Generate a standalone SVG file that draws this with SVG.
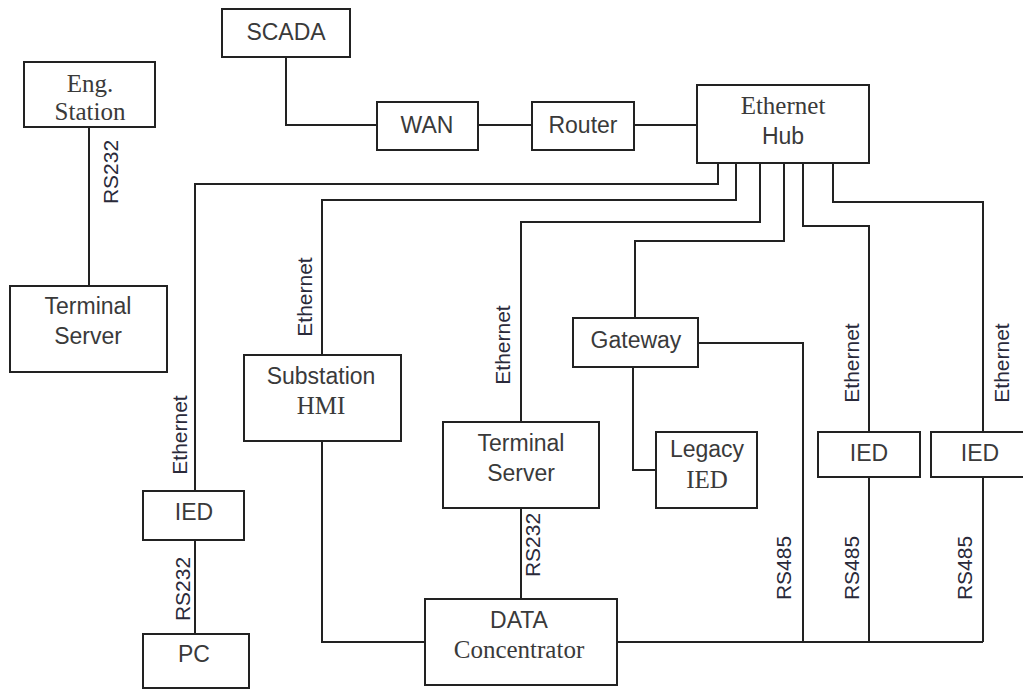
<svg xmlns="http://www.w3.org/2000/svg" width="1023" height="690" viewBox="0 0 1023 690">
<style>
.box{fill:#fff;stroke:#222;stroke-width:2}
.ln{fill:none;stroke:#222;stroke-width:2}
.t{font-family:"Liberation Sans",Arial,sans-serif;font-size:23px;fill:#3a3a3a;text-anchor:middle}
.s{font-family:"Liberation Serif","Times New Roman",serif;font-size:25px;fill:#3a3a3a;text-anchor:middle}
.r{font-family:"Liberation Sans",Arial,sans-serif;font-size:21px;fill:#2a2a3a;text-anchor:middle}
</style>
<rect width="1023" height="690" fill="#fff"/>
<g id="connectors">
<path class="ln" d="M89 127V286"/>
<path class="ln" d="M286 57V125H377"/>
<path class="ln" d="M478 125H532"/>
<path class="ln" d="M634 125H697"/>
<path class="ln" d="M718 163V184H195V491"/>
<path class="ln" d="M736 163V200H322V355"/>
<path class="ln" d="M760 163V222H521V422"/>
<path class="ln" d="M784 163V241H635V318"/>
<path class="ln" d="M803 163V226H869V432"/>
<path class="ln" d="M833 163V202H983V432"/>
<path class="ln" d="M195 540V634"/>
<path class="ln" d="M322 441V642H425"/>
<path class="ln" d="M521 508V599"/>
<path class="ln" d="M633 367V470H656"/>
<path class="ln" d="M698 343H803V642"/>
<path class="ln" d="M617 642H983"/>
<path class="ln" d="M869 477V642"/>
<path class="ln" d="M983 477V642"/>
<text class="r" transform="translate(118,172) rotate(-90)">RS232</text>
<text class="r" transform="translate(187,435) rotate(-90)">Ethernet</text>
<text class="r" transform="translate(312,297) rotate(-90)">Ethernet</text>
<text class="r" transform="translate(190,589) rotate(-90)">RS232</text>
<text class="r" transform="translate(510,345) rotate(-90)">Ethernet</text>
<text class="r" transform="translate(540,545) rotate(-90)">RS232</text>
<text class="r" transform="translate(791,568) rotate(-90)">RS485</text>
<text class="r" transform="translate(859,363) rotate(-90)">Ethernet</text>
<text class="r" transform="translate(1009,363) rotate(-90)">Ethernet</text>
<text class="r" transform="translate(859,568) rotate(-90)">RS485</text>
<text class="r" transform="translate(972,568) rotate(-90)">RS485</text>
</g>
<g id="scada"><rect class="box" x="222" y="9" width="128" height="48"/><text class="t" x="286" y="40">SCADA</text></g>
<g id="eng-station"><rect class="box" x="24" y="62" width="131" height="65"/><text class="s" x="90" y="92">Eng.</text><text class="s" x="90" y="120">Station</text></g>
<g id="wan"><rect class="box" x="377" y="102" width="101" height="48"/><text class="t" x="427" y="133">WAN</text></g>
<g id="router"><rect class="box" x="532" y="102" width="102" height="48"/><text class="t" x="583" y="133">Router</text></g>
<g id="ethernet-hub"><rect class="box" x="697" y="85" width="172" height="78"/><text class="s" x="783" y="114">Ethernet</text><text class="t" x="783" y="144">Hub</text></g>
<g id="terminal-server-left"><rect class="box" x="10" y="286" width="157" height="86"/><text class="t" x="88" y="314">Terminal</text><text class="t" x="88" y="344">Server</text></g>
<g id="substation-hmi"><rect class="box" x="244" y="355" width="157" height="86"/><text class="t" x="321" y="384">Substation</text><text class="s" x="321" y="414">HMI</text></g>
<g id="ied-left"><rect class="box" x="143" y="491" width="101" height="49"/><text class="t" x="194" y="520">IED</text></g>
<g id="pc"><rect class="box" x="143" y="634" width="106" height="54"/><text class="t" x="194" y="662">PC</text></g>
<g id="terminal-server-mid"><rect class="box" x="443" y="422" width="156" height="86"/><text class="t" x="521" y="451">Terminal</text><text class="t" x="521" y="481">Server</text></g>
<g id="gateway"><rect class="box" x="573" y="318" width="125" height="49"/><text class="t" x="636" y="348">Gateway</text></g>
<g id="legacy-ied"><rect class="box" x="656" y="432" width="101" height="76"/><text class="t" x="707" y="457">Legacy</text><text class="s" x="707" y="488">IED</text></g>
<g id="data-concentrator"><rect class="box" x="425" y="599" width="192" height="86"/><text class="t" x="519" y="628">DATA</text><text class="s" x="519" y="658">Concentrator</text></g>
<g id="ied-1"><rect class="box" x="818" y="432" width="102" height="45"/><text class="t" x="869" y="461">IED</text></g>
<g id="ied-2"><rect class="box" x="931" y="432" width="110" height="45"/><text class="t" x="980" y="461">IED</text></g>
</svg>
